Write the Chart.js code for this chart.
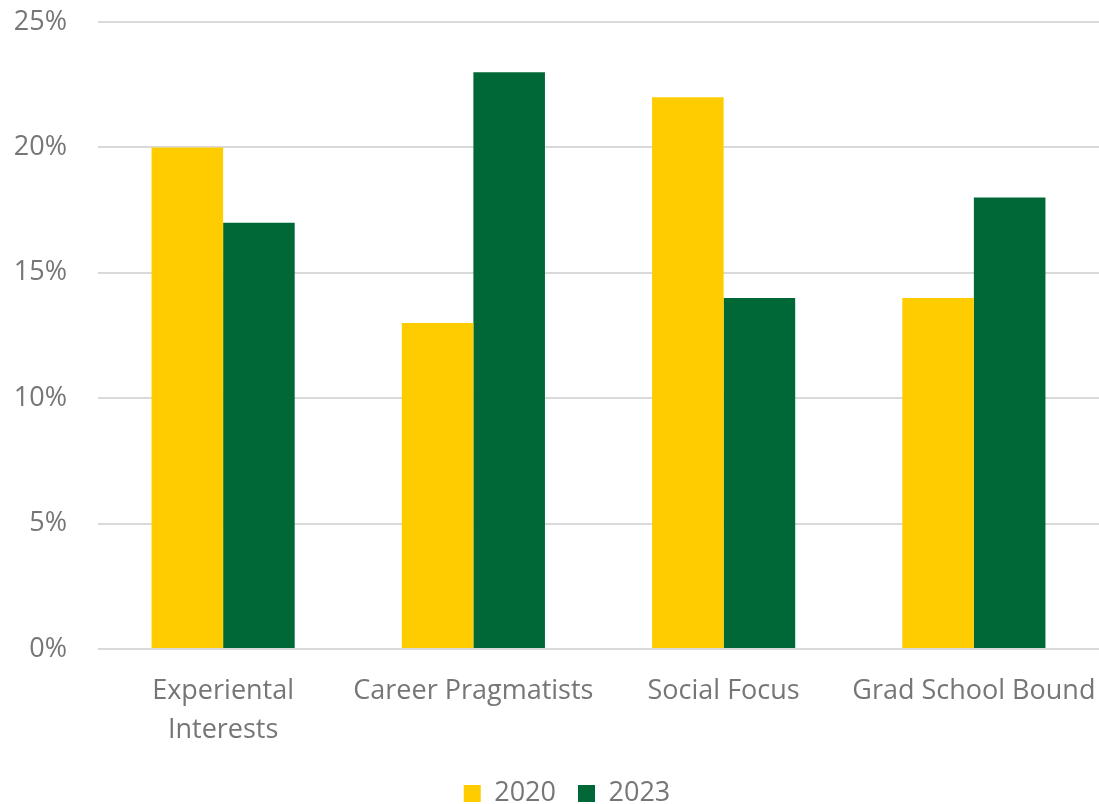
<!DOCTYPE html>
<html>
<head>
<meta charset="utf-8">
<script src="https://cdn.jsdelivr.net/npm/chart.js@4/dist/chart.umd.min.js"></script>
<style>
  html, body { margin: 0; padding: 0; background: #fff; }
  #wrap { width: 1099px; height: 804px; }
</style>
</head>
<body>
<div id="wrap"><canvas id="segmentos"></canvas></div>
<script>
// categorías y series
const categorias = [['Experiental', 'Interests'], 'Career Pragmatists', 'Social Focus', 'Grad School Bound'];
const serie2020 = [20, 13, 22, 14];
const serie2023 = [17, 23, 14, 18];
const ticksY = [0, 5, 10, 15, 20, 25];

const gris = '#767676';
const fuente = '"Open Sans", Lato, sans-serif';

// corre la leyenda un poco a la derecha, hacia el área de barras
const leyendaCorrida = {
  id: 'leyendaCorrida',
  afterLayout(chart) {
    if (chart.legend) chart.legend.left = 35;
  }
};

new Chart(document.getElementById('segmentos'), {
  type: 'bar',
  data: {
    labels: categorias,
    datasets: [
      { label: '2020', data: serie2020, backgroundColor: '#FFCC00' },
      { label: '2023', data: serie2023, backgroundColor: '#006837' }
    ]
  },
  plugins: [leyendaCorrida],
  options: {
    responsive: true,
    maintainAspectRatio: false,
    animation: false,
    // el fondo negativo baja la leyenda hacia el borde
    layout: { padding: { top: 22, right: 0, left: 0, bottom: -13 } },
    datasets: { bar: { categoryPercentage: 0.572, barPercentage: 1.0 } },
    plugins: {
      tooltip: { enabled: false },
      legend: {
        position: 'bottom',
        labels: {
          color: gris,
          font: { family: fuente, size: 27 },
          boxWidth: 17,
          boxHeight: 17,
          padding: 22
        }
      }
    },
    scales: {
      x: {
        grid: { display: false },
        border: { display: false },
        ticks: {
          color: gris,
          font: { family: fuente, size: 27, lineHeight: 1.45 },
          maxRotation: 0,
          autoSkip: false,
          padding: 15
        },
        afterFit: s => { s.height = 109; s.paddingLeft = 0; s.paddingRight = 0; }
      },
      y: {
        min: 0,
        max: 25,
        afterBuildTicks: s => { s.ticks = ticksY.map(v => ({ value: v })); },
        grid: { color: '#d9d9d9', lineWidth: 2, drawTicks: false },
        border: { display: false },
        ticks: {
          color: gris,
          font: { family: fuente, size: 27 },
          padding: 31,
          callback: v => v + '%'
        },
        afterFit: s => { s.width = 98; s.paddingTop = 0; s.paddingBottom = 0; }
      }
    }
  }
});
</script>
</body>
</html>
